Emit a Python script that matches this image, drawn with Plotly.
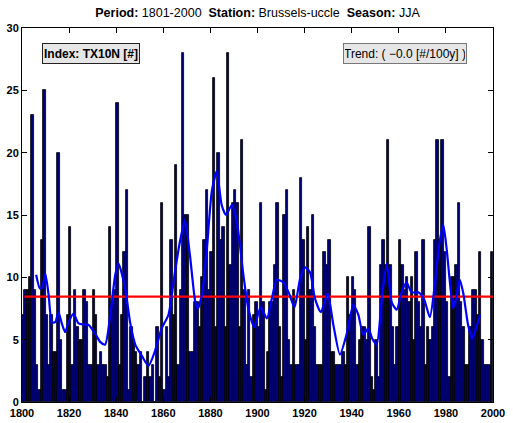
import plotly.graph_objects as go

years = list(range(1801, 2001))
counts = [
    7, 9, 9, 10, 23, 9, 3, 1, 13, 25,      # 1801-1810
    7, 3, 7, 4, 4, 20, 5, 1, 1, 7,         # 1811-1820
    14, 3, 9, 6, 5, 5, 9, 8, 3, 3,         # 1821-1830
    9, 7, 3, 4, 3, 3, 2, 14, 8, 9,         # 1831-1840
    24, 3, 7, 12, 17, 1, 6, 5, 4, 3,       # 1841-1850
    4, 0, 2, 4, 2, 3, 0, 6, 2, 16,         # 1851-1860
    1, 6, 2, 13, 7, 19, 3, 9, 28, 15,      # 1861-1870
    15, 4, 4, 8, 8, 6, 10, 13, 17, 9,      # 1871-1880
    12, 26, 6, 20, 13, 14, 6, 28, 11, 16,  # 1881-1890
    17, 16, 6, 21, 9, 3, 9, 2, 7, 8,       # 1891-1900
    6, 16, 8, 1, 4, 8, 8, 11, 16, 6,       # 1901-1910
    2, 15, 17, 5, 3, 9, 3, 3, 18, 13,      # 1911-1920
    5, 14, 9, 15, 6, 3, 3, 3, 12, 11,      # 1921-1930
    13, 4, 4, 3, 3, 3, 4, 3, 10, 7,        # 1931-1940
    10, 9, 3, 5, 6, 6, 5, 14, 2, 1,        # 1941-1950
    5, 2, 11, 13, 11, 21, 11, 6, 3, 6,     # 1951-1960
    13, 11, 9, 10, 8, 10, 5, 12, 8, 6,     # 1961-1970
    13, 3, 6, 5, 6, 13, 21, 13, 21, 12,    # 1971-1980
    8, 2, 10, 10, 11, 16, 8, 6, 3, 3,      # 1981-1990
    6, 9, 9, 7, 12, 5, 3, 3, 3, 12,        # 1991-2000
]

smooth_years = [1806.0, 1807.6, 1808.6, 1809.9, 1811.3, 1812.7, 1814.1, 1815.5, 1816.9, 1818.3,
                1819.8, 1821.9, 1824.0, 1826.2, 1828.2, 1831.0, 1833.3, 1835.3, 1837.5, 1839.6,
                1841.0, 1843.8, 1845.9, 1848.1, 1850.9, 1853.7, 1856.5, 1859.3, 1862.2, 1865.0,
                1867.1, 1869.2, 1871.3, 1873.6, 1874.7, 1876.4, 1878.5, 1880.6, 1882.7, 1884.8,
                1886.6, 1889.1, 1891.2, 1894.0, 1896.1, 1898.6, 1901.3, 1904.0, 1906.1, 1908.2,
                1910.9, 1913.2, 1915.7, 1918.1, 1920.2, 1922.3, 1924.4, 1926.9, 1929.8, 1932.2,
                1935.0, 1937.8, 1940.7, 1942.8, 1944.9, 1947.0, 1948.7, 1950.6, 1952.8, 1954.9,
                1957.0, 1959.1, 1961.2, 1963.3, 1965.4, 1968.3, 1970.8, 1973.2, 1975.3, 1977.4,
                1978.9, 1980.3, 1981.7, 1983.1, 1984.6, 1985.9, 1987.3, 1989.4, 1991.1, 1993.0,
                1994.5]
smooth_vals = [10.2, 9.1, 9.2, 10.3, 8.6, 6.4, 6.4, 7.2, 6.3, 5.6,
               6.4, 7.1, 6.3, 6.2, 6.2, 5.5, 4.8, 4.6, 7.0, 10.2,
               11.1, 9.1, 6.4, 4.6, 3.7, 2.9, 4.1, 5.9, 7.0, 10.5,
               12.9, 14.6, 11.8, 8.0, 7.5, 8.6, 12.3, 16.9, 18.5, 15.8,
               15.0, 15.8, 14.5, 10.2, 7.5, 6.0, 7.6, 6.7, 8.3, 9.8,
               9.6, 8.8, 7.6, 9.9, 10.8, 10.4, 8.3, 7.2, 8.7, 6.2,
               3.8, 5.4, 7.8, 7.0, 5.4, 5.9, 5.1, 4.6, 8.3, 11.1,
               8.0, 7.4, 8.8, 9.6, 8.8, 8.8, 8.2, 6.8, 9.4, 12.9,
               14.2, 12.3, 9.6, 7.5, 8.6, 9.8, 8.8, 6.2, 5.1, 6.0,
               7.0]

trend_years = [1801, 2000]
trend_level = 8.45

x_ticks = list(range(1800, 2001, 20))
y_ticks = list(range(0, 31, 5))

fig = go.Figure()
fig.add_trace(go.Bar(
    x=[y - 0.5 for y in years], y=counts, width=1.0,
    marker=dict(color="#000078", line=dict(color="black", width=0.8)),
    hoverinfo="x+y", showlegend=False,
))
fig.add_trace(go.Scatter(
    x=trend_years, y=[trend_level, trend_level], mode="lines",
    line=dict(color="#ff0000", width=2.4), showlegend=False,
))
fig.add_trace(go.Scatter(
    x=smooth_years, y=smooth_vals, mode="lines",
    line=dict(color="#0000ff", width=2.2, shape="spline", smoothing=0.6), showlegend=False,
))

font_family = "Liberation Sans, Arial, Helvetica, sans-serif"
fig.update_layout(
    width=513, height=423,
    margin=dict(l=22, r=20, t=28, b=21, autoexpand=False),
    paper_bgcolor="white", plot_bgcolor="white",
    font=dict(family=font_family, size=11, color="black"),
    bargap=0,
    title=dict(
        text="<b>Period:</b> 1801-2000  <b>Station:</b> Brussels-uccle  <b>Season:</b> JJA",
        x=(22 + 493) / 2 / 513, xanchor="center", xref="container",
        y=1 - 13 / 423, yref="container", yanchor="middle", automargin=False,
        font=dict(size=12.5, family=font_family),
    ),
    xaxis=dict(
        range=[1800, 2000], tickvals=x_ticks, ticktext=[str(v) for v in x_ticks],
        ticks="inside", ticklen=5, tickcolor="black", showline=True, linecolor="black",
        linewidth=1, mirror="ticks", showgrid=False, zeroline=False, automargin=False,
        ticklabelstandoff=1,
        tickfont=dict(size=11, family=font_family, weight="bold"),
    ),
    yaxis=dict(
        range=[0, 30], tickvals=y_ticks, ticktext=[str(v) for v in y_ticks],
        ticks="inside", ticklen=5, tickcolor="black", showline=True, linecolor="black",
        linewidth=1, mirror="ticks", showgrid=False, zeroline=False, automargin=False,
        tickfont=dict(size=11, family=font_family, weight="bold"),
    ),
    annotations=[
        dict(text="<b>Index: TX10N [#]</b>", xref="paper", yref="paper",
             x=(42 - 22) / 471, y=(402 - 53) / 374, xanchor="left", yanchor="middle",
             showarrow=False, bgcolor="#e6e6e6", bordercolor="#222222", borderwidth=1,
             borderpad=1, width=94, height=17, font=dict(size=12)),
        dict(text="Trend: ( \u22120.0 [#/100y] )", xref="paper", yref="paper",
             x=(343 - 22) / 471, y=(402 - 53) / 374, xanchor="left", yanchor="middle",
             showarrow=False, bgcolor="#e6e6e6", bordercolor="#777777", borderwidth=1,
             borderpad=1, width=120, height=17, font=dict(size=12)),
    ],
)

fig.write_html(
    "out.html",
    config={"displayModeBar": False},
    post_script="document.body.style.margin='0';document.body.style.padding='0';",
)
